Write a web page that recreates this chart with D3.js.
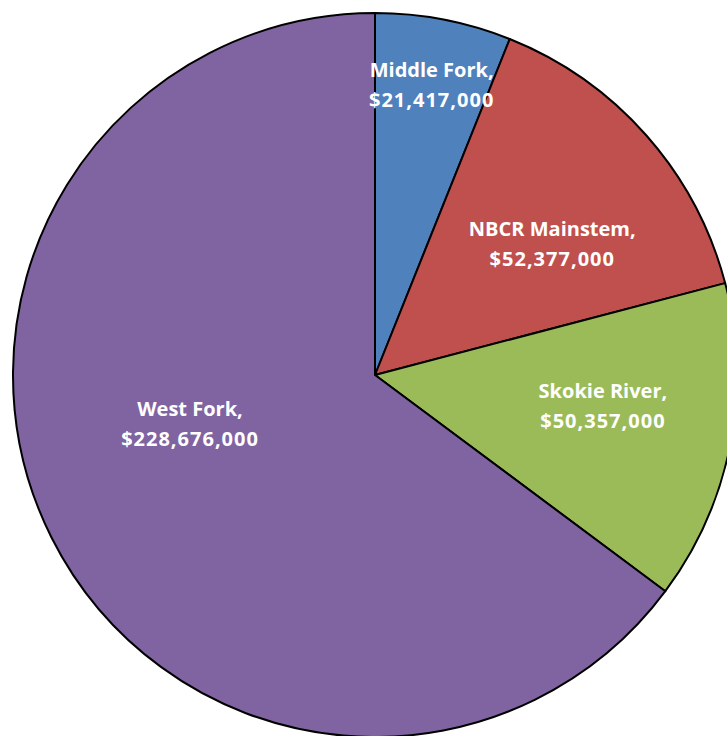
<!DOCTYPE html>
<html><head><meta charset="utf-8">
<script src="https://cdn.jsdelivr.net/npm/d3@7"></script>
<style>html,body{margin:0;padding:0;background:#fff;overflow:hidden}</style>
</head><body>
<svg id="chart" width="727" height="736"></svg>
<script>
const categories = ["Middle Fork", "NBCR Mainstem", "Skokie River", "West Fork"];
const values = [21417000, 52377000, 50357000, 228676000];
const colors = ["#4F81BD", "#C0504D", "#9BBB59", "#8064A2"];
// label placement (radius fraction, angle in degrees clockwise from top)
const labelLayout = [[0.82, 11.0], [0.61, 53.4], [0.635, 97.5], [0.528, 255.45]];

const cx = 375, cy = 375, R = 362;
const svg = d3.select("#chart");
const g = svg.append("g").attr("transform", `translate(${cx},${cy})`);
const pie = d3.pie().sort(null).value(d => d.v);
const data = categories.map((c, i) => ({c, v: values[i], i}));
const arcs = pie(data);
const arc = d3.arc().innerRadius(0).outerRadius(R);

g.selectAll("path").data(arcs).join("path")
  .attr("d", arc)
  .attr("fill", d => colors[d.data.i])
  .attr("stroke", "#000")
  .attr("stroke-width", 2)
  .attr("stroke-linejoin", "round");

const fmt = d3.format("$,");
arcs.forEach(d => {
  const [f, a] = labelLayout[d.data.i];
  const ang = a * Math.PI / 180;
  const x = Math.sin(ang) * f * R, y = -Math.cos(ang) * f * R;
  const t = g.append("text")
    .attr("text-anchor", "middle")
    .attr("fill", "#fff")
    .style("font-family", "'Open Sans', Lato, sans-serif")
    .style("font-weight", "bold")
    .style("font-size", "20px");
  t.append("tspan").attr("x", x).attr("y", y - 7).text(d.data.c + ",");
  t.append("tspan").attr("x", x).attr("y", y + 23).style("letter-spacing", "1px").text(fmt(d.data.v));
});
</script>
</body></html>
